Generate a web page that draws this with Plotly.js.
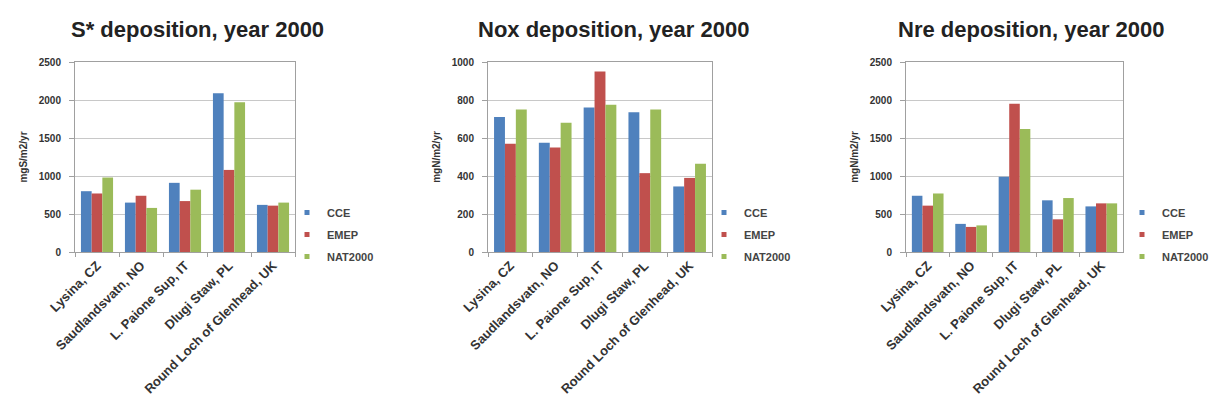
<!DOCTYPE html>
<html>
<head>
<meta charset="utf-8">
<script src="https://cdn.plot.ly/plotly-3.0.1.min.js"></script>
<style>
  html, body { margin: 0; padding: 0; background: #fff; }
  #chart { width: 1231px; height: 412px; }
</style>
</head>
<body>
<div id="chart"></div>
<script>
var sites = ['Lysina, CZ', 'Saudlandsvatn, NO', 'L. Paione Sup, IT', 'Dlugi Staw, PL', 'Round Loch of Glenhead, UK']
var models = ['CCE', 'EMEP', 'NAT2000']
var colors = ['#4F81BD', '#C0504D', '#9BBB59']

// S* deposition, mgS/m2/yr
var sCCE = [800, 650, 910, 2090, 620]
var sEMEP = [770, 740, 670, 1080, 610]
var sNAT = [980, 580, 820, 1970, 650]

// Nox deposition, mgN/m2/yr
var noxCCE = [710, 575, 760, 735, 345]
var noxEMEP = [570, 550, 950, 415, 390]
var noxNAT = [750, 680, 775, 750, 465]

// Nre deposition, mgN/m2/yr
var nreCCE = [740, 370, 990, 680, 600]
var nreEMEP = [610, 330, 1950, 430, 640]
var nreNAT = [770, 350, 1620, 710, 640]

var panels = [
    { title: 'S* deposition, year 2000', ytitle: 'mgS/m2/yr', series: [sCCE, sEMEP, sNAT], range: [0, 2500], dtick: 500, left: 75, right: 295, legx: 287, tx: 197 },
    { title: 'Nox deposition, year 2000', ytitle: 'mgN/m2/yr', series: [noxCCE, noxEMEP, noxNAT], range: [0, 1000], dtick: 200, left: 488, right: 712, legx: 704, tx: 613 },
    { title: 'Nre deposition, year 2000', ytitle: 'mgN/m2/yr', series: [nreCCE, nreEMEP, nreNAT], range: [0, 2500], dtick: 500, left: 906, right: 1123, legx: 1122, tx: 1031 }
]

var W = 1231, H = 412
var plotTop = 62, plotBottom = 252

var data = []
var layout = {
    width: W,
    height: H,
    margin: { l: 0, r: 0, t: 0, b: 0 },
    paper_bgcolor: '#fff',
    plot_bgcolor: '#fff',
    font: { family: 'Arial, Liberation Sans, sans-serif', color: '#404040' },
    barmode: 'group',
    bargap: 0.27,
    bargroupgap: 0,
    annotations: []
}

panels.forEach(function (p, k) {
    var n = k + 1
    var xa = n == 1 ? 'x' : 'x' + n
    var ya = n == 1 ? 'y' : 'y' + n
    var leg = n == 1 ? 'legend' : 'legend' + n

    for (var i = 0; i < models.length; i++) {
        data.push({
            type: 'bar',
            name: models[i],
            x: sites,
            y: p.series[i],
            xaxis: xa,
            yaxis: ya,
            showlegend: false,
            marker: { color: colors[i] }
        })
    }
    // small square legend keys, like the spreadsheet legend
    for (var i = 0; i < models.length; i++) {
        data.push({
            type: 'scatter',
            mode: 'markers',
            name: models[i],
            x: [null],
            y: [null],
            xaxis: xa,
            yaxis: ya,
            legend: leg,
            legendgroup: leg + models[i],
            marker: { color: colors[i], symbol: 'square', size: 5 }
        })
    }

    layout['xaxis' + (n == 1 ? '' : n)] = {
        domain: [p.left / W, p.right / W],
        anchor: ya,
        type: 'category',
        tickangle: -45,
        tickson: 'boundaries',
        ticks: 'outside',
        ticklen: 4,
        tickcolor: '#a0a0a0',
        showgrid: false,
        showline: true,
        linecolor: '#a0a0a0',
        mirror: true,
        tickfont: { size: 13, weight: 'bold', color: '#333' },
        fixedrange: true
    }
    layout['yaxis' + (n == 1 ? '' : n)] = {
        domain: [1 - plotBottom / H, 1 - plotTop / H],
        anchor: xa,
        range: p.range,
        dtick: p.dtick,
        ticks: 'outside',
        ticklen: 5,
        tickcolor: '#a0a0a0',
        ticklabelstandoff: 6,
        showgrid: true,
        gridcolor: '#c8c8c8',
        showline: true,
        linecolor: '#a0a0a0',
        mirror: true,
        zeroline: false,
        tickfont: { size: 10, weight: 'bold', color: '#333' },
        title: { text: p.ytitle, font: { size: 10, weight: 'bold', color: '#333' }, standoff: 9 },
        fixedrange: true
    }
    layout[leg] = {
        x: p.legx / W,
        y: 1 - 198 / H,
        xanchor: 'left',
        yanchor: 'top',
        bgcolor: 'rgba(0,0,0,0)',
        font: { size: 11, weight: 'bold', color: '#444' },
        itemwidth: 30,
        tracegroupgap: 3
    }
    layout.annotations.push({
        text: p.title,
        xref: 'paper',
        yref: 'paper',
        x: p.tx / W,
        y: 1 - 30 / H,
        xanchor: 'center',
        yanchor: 'middle',
        showarrow: false,
        font: { size: 22, weight: 'bold', color: '#222' }
    })
})

var config = { responsive: false, 'displayModeBar': false, staticPlot: true }

Plotly.newPlot('chart', data, layout, config)
</script>
</body>
</html>
